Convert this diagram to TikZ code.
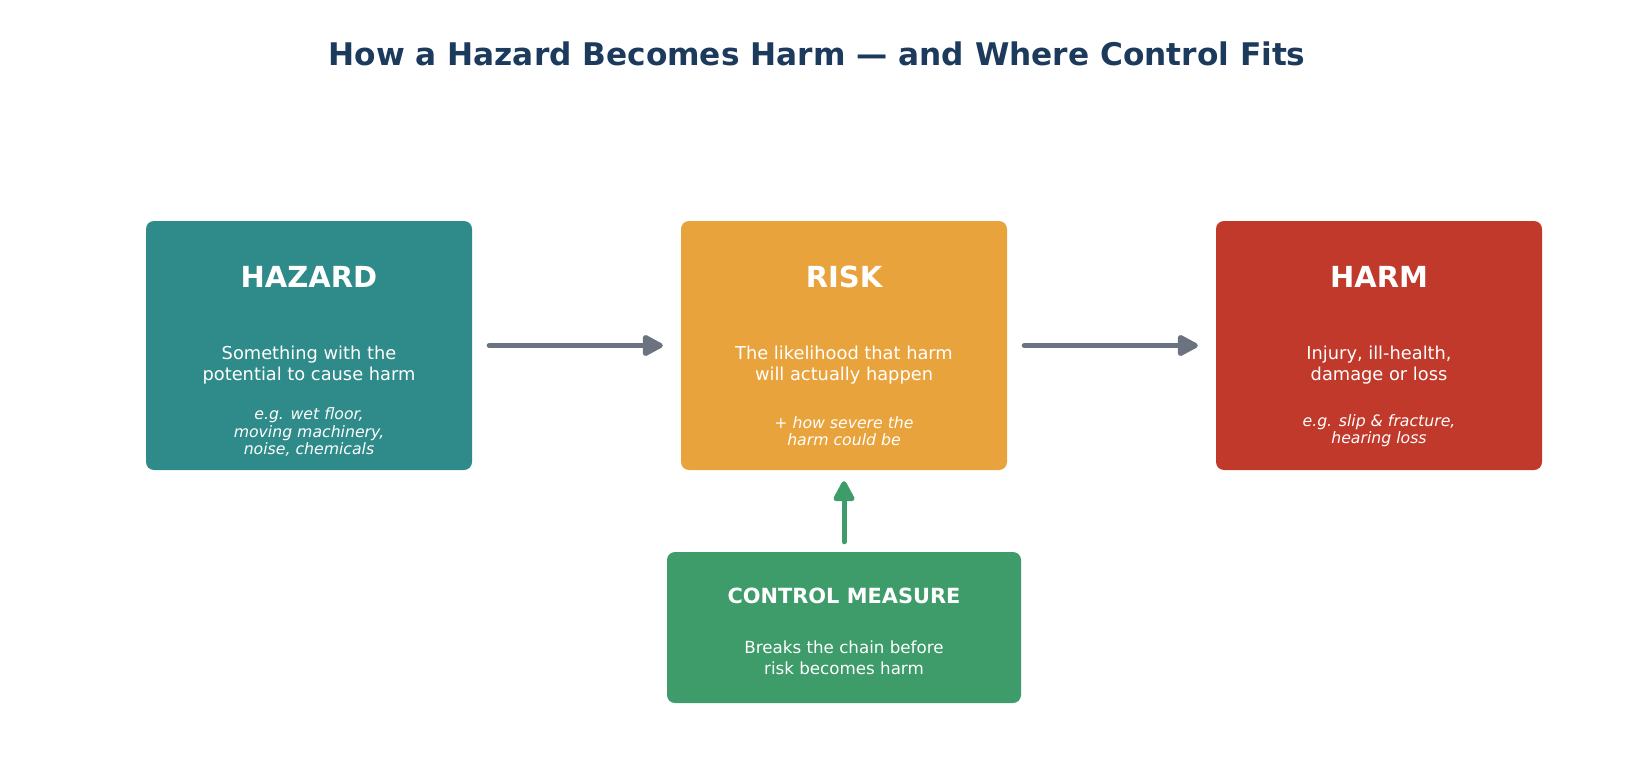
\documentclass[tikz,border=0pt]{standalone}
\usepackage{fontspec}
\setmainfont{DejaVu Sans}
\usetikzlibrary{arrows.meta, positioning}
\definecolor{hazardteal}{HTML}{2E8B89}
\definecolor{riskorange}{HTML}{E8A33D}
\definecolor{harmred}{HTML}{C0392B}
\definecolor{controlgreen}{HTML}{3E9B6A}
\definecolor{arrowgrey}{HTML}{6B7280}
\definecolor{titlenavy}{HTML}{1B3A5C}

\begin{document}
\begin{tikzpicture}[x=1pt, y=1pt,
  box/.style={rectangle, rounded corners=8pt, minimum width=326pt,
    minimum height=249pt, inner sep=0pt},
  heading/.style={text=white, font=\fontsize{29}{33}\selectfont\bfseries},
  body/.style={text=white, align=center, font=\fontsize{17.8}{21}\selectfont},
  example/.style={text=white, align=center, font=\fontsize{15.7}{17.3}\selectfont\itshape},
  flow/.style={line width=5pt, line cap=round, draw=arrowgrey,
    -{Triangle[length=23pt, width=23pt, round]}}]
  \useasboundingbox (0,0) rectangle (1635,-765);

  \node[font=\fontsize{31.2}{35}\selectfont\bfseries, text=titlenavy] (title) at (817,-54) {How a Hazard Becomes Harm — and Where Control Fits};

  % the three stages
  \node[box, fill=hazardteal] (hazard) at (309,-345.5) {};
  \node[box, fill=riskorange] (risk) at (844,-345.5) {};
  \node[box, fill=harmred] (harm) at (1379,-345.5) {};

  \node[heading] (hazardhead) at (309,-277) {HAZARD};
  \node[body] (hazardbody) at (309,-365) {Something with the\\potential to cause harm};
  \node[example] (hazardex) at (309,-432) {e.g. wet floor,\\moving machinery,\\noise, chemicals};

  \node[heading] (riskhead) at (844,-277) {RISK};
  \node[body] (riskbody) at (844,-365) {The likelihood that harm\\will actually happen};
  \node[example] (riskex) at (844,-431) {+ how severe the\\harm could be};

  \node[heading] (harmhead) at (1379,-277) {HARM};
  \node[body] (harmbody) at (1379,-365) {Injury, ill-health,\\damage or loss};
  \node[example] (harmex) at (1379,-431) {e.g. slip \& fracture,\\hearing loss};

  % the control
  \node[box, fill=controlgreen, minimum width=354pt, minimum height=151pt] (control) at (844,-627.5) {};
  \node[heading, font=\fontsize{20.9}{24}\selectfont\bfseries] (controlhead) at (844,-596) {CONTROL MEASURE};
  \node[body, font=\fontsize{16.7}{20.8}\selectfont] (controlbody) at (844,-658) {Breaks the chain before\\risk becomes harm};

  \draw[flow, shorten <=17pt, shorten >=18pt] (hazard) -- (risk);
  \draw[flow, shorten <=17pt, shorten >=18pt] (risk) -- (harm);
  \draw[flow, draw=controlgreen, shorten <=10pt, shorten >=11pt] (control) -- (risk);
\end{tikzpicture}
\end{document}
